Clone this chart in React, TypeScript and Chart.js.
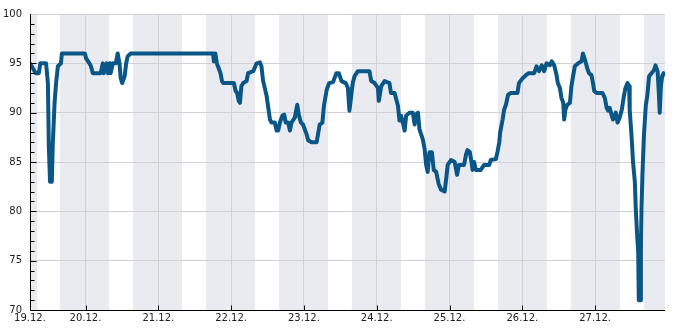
import React, { useEffect, useRef } from "react";
import { Chart, registerables } from "chart.js";

Chart.register(...registerables);

// hours since 19.12. 00:00
const hours = [
  5.7, 7.6, 8.6, 9.1, 11.0, 11.6, 11.9, 12.3, 12.9, 13.2, 13.8, 14.3, 14.9, 15.9, 16.2, 23.8,
  24.2, 25.3, 25.8, 26.4, 29.0, 29.7, 30.0, 31.0, 31.4, 32.0, 32.3, 33.0, 34.0, 34.6, 35.2, 35.6,
  36.1, 36.9, 37.4, 37.9, 38.9, 66.1, 66.3, 66.8, 67.3, 67.9, 68.5, 69.0, 69.4, 72.9, 73.5, 74.0,
  74.5, 74.9, 75.4, 76.0, 77.1, 77.6, 79.3, 80.4, 81.5, 82.0, 82.5, 83.7, 84.8, 85.3, 86.4, 87.0,
  87.5, 88.1, 88.9, 89.5, 90.0, 90.8, 91.4, 91.9, 93.0, 93.8, 94.3, 95.0, 95.7, 96.9, 97.4, 98.5,
  100.2, 101.2, 102.1, 102.6, 103.5, 104.3, 105.6, 106.7, 107.5, 108.4, 109.8, 110.5, 111.0, 111.6,
  112.1, 112.7, 113.8, 117.6, 118.2, 119.3, 120.4, 120.7, 121.5, 122.6, 124.2, 124.7, 125.9, 127.0,
  127.5, 128.0, 128.6, 129.2, 129.7, 130.8, 131.9, 132.5, 133.0, 133.6, 134.1, 135.2, 135.8, 136.3,
  136.8, 137.4, 138.2, 138.8, 139.6, 140.4, 141.2, 142.4, 142.9, 143.4, 144.5, 145.7, 146.5, 147.1,
  148.8, 149.4, 149.9, 150.7, 151.4, 151.6, 152.1, 152.7, 154.3, 155.4, 157.1, 157.6, 159.3, 159.8,
  160.4, 160.7, 161.5, 162.0, 162.6, 163.3, 164.2, 166.4, 166.9, 168.1, 169.2, 170.0, 171.9, 172.7,
  173.5, 174.4, 175.2, 176.0, 177.1, 177.7, 178.5, 179.3, 179.7, 180.4, 180.9, 181.5, 181.8, 182.2,
  182.8, 183.7, 184.2, 184.8, 185.3, 186.4, 187.5, 188.0, 188.8, 189.4, 190.0, 190.8, 191.3, 191.7,
  192.5, 194.4, 195.2, 195.8, 196.3, 196.8, 197.4, 197.9, 198.8, 199.4, 200.1, 200.8, 201.5, 202.0,
  202.7, 203.2, 203.4, 204.0, 204.5, 205.1, 205.4, 205.9, 206.2, 206.4, 206.8, 207.1, 207.3, 207.6,
  208.1, 208.7, 209.2, 209.8, 210.6, 211.4, 211.9, 212.6, 213.0, 213.3, 213.7, 214.1, 214.6, 215.1,
];

const values = [
  95, 94, 94, 95, 95, 93, 86.7, 83, 83, 86.7, 91, 93, 94.7, 95, 96, 96,
  95.5, 95, 94.7, 94, 94, 95, 94, 95, 94, 95, 94, 95, 95, 96, 95, 93.5,
  93, 93.7, 95, 95.7, 96, 96, 95.2, 96, 95, 94.5, 94, 93.2, 93, 93, 92.2, 92,
  91.2, 91, 92.7, 93, 93.2, 94, 94.2, 95, 95.1, 94.7, 93.3, 91.7, 89.3, 89, 89, 88.2,
  88.2, 89, 89.7, 89.8, 89, 89, 88.2, 89, 89.5, 90.8, 89.8, 89, 88.8, 87.8, 87.2, 87,
  87, 88.8, 89, 90.7, 92.3, 93, 93.1, 94, 94, 93.2, 93, 92.5, 90.2, 91.7,
  93, 93.7, 94.2, 94.2, 93.2, 93, 92.5, 91.2, 92.7, 93.2, 93, 92, 92, 90.7,
  89.2, 89.7, 89, 88.2, 89.7, 90, 90, 88.8, 89.8, 90, 88.3, 87.3, 86.3, 84.7,
  84, 86, 86, 84.2, 84, 82.8, 82.2, 82, 83.3, 84.7, 85.2, 85, 83.7, 84.7,
  84.7, 85.7, 86.2, 86, 84.7, 84.2, 85, 84.2, 84.2, 84.7, 84.7, 85.2, 85.3, 86,
  87, 88, 89.3, 90.3, 90.8, 91.8, 92, 92, 93, 93.5, 93.8, 94, 94, 94.7,
  94.2, 94.8, 94.2, 95, 94.8, 95.2, 94.8, 93.8, 93, 92.5, 91.5, 91, 89.3, 90.3,
  90.8, 91, 92.7, 93.8, 94.7, 95, 95.2, 96, 95.2, 94.5, 94, 93.8, 93, 92.2,
  92, 92, 91.5, 90.5, 90.2, 90.5, 89.8, 89.3, 90, 89, 89.5, 90.3, 91.7, 92.5,
  93, 92.7, 90.3, 87.7, 85, 83, 80.3, 77.3, 76, 71, 71, 76, 80.3, 83.7,
  87.7, 90.7, 91.7, 93.7, 94, 94.3, 94.8, 94.2, 92, 90, 92.7, 93.7, 94, 93.7,
];

// night (shaded) bands, hours since 19.12. 00:00
const nightStart = [0, 15.5, 39.6, 63.7, 87.7, 111.8, 135.9, 159.9, 184.0, 208.0];
const nightEnd = [7.9, 31.7, 55.7, 79.8, 103.9, 127.9, 152.0, 176.1, 200.2, 232.0];

const xTickHours = [24, 48, 72, 96, 120, 144, 168, 192];
const xTickLabels = ["20.12.", "21.12.", "22.12.", "23.12.", "24.12.", "25.12.", "26.12.", "27.12."];
const firstLabel = "19.12.";
const yTicks = [70, 75, 80, 85, 90, 95, 100];

const X_MIN = 5.7;
const X_MAX = 215.04;
const Y_MIN = 70;
const Y_MAX = 100;

const LINE = "#0a5787";
const BAND = "#eaebf0";
const GRID = "#d0d0d5";
const FONT = { family: "DejaVu Sans", size: 10 };

export default function App() {
  const ref = useRef<HTMLCanvasElement>(null);

  useEffect(() => {
    document.body.style.margin = "0";
    const canvas = ref.current!;

    const nightPlugin = {
      id: "nights",
      beforeDraw(chart: any) {
        const { ctx, chartArea: a } = chart;
        const x = chart.scales.x;
        ctx.save();
        ctx.fillStyle = BAND;
        nightStart.forEach((s: number, i: number) => {
          const x0 = Math.round(Math.max(a.left, x.getPixelForValue(s)));
          const x1 = Math.round(Math.min(a.right, x.getPixelForValue(nightEnd[i])));
          if (x1 > x0) ctx.fillRect(x0, a.top, x1 - x0, a.bottom - a.top);
        });
        ctx.restore();
      },
    };

    const axisPlugin = {
      id: "axes",
      afterDraw(chart: any) {
        const { ctx, chartArea: a } = chart;
        const x = chart.scales.x;
        const y = chart.scales.y;
        ctx.save();
        ctx.strokeStyle = "#000";
        ctx.lineWidth = 1;
        ctx.beginPath();
        const left = Math.round(a.left) + 0.5;
        const bottom = Math.round(a.bottom) + 0.5;
        ctx.moveTo(left, Math.round(a.top));
        ctx.lineTo(left, bottom);
        ctx.lineTo(Math.round(a.right), bottom);
        for (let v = Y_MIN + 1; v < Y_MAX; v++) {
          const py = Math.round(y.getPixelForValue(v)) + 0.5;
          const len = v % 5 === 0 ? 6 : 4;
          ctx.moveTo(left, py);
          ctx.lineTo(left + len, py);
        }
        xTickHours.forEach((h: number) => {
          const px = Math.round(x.getPixelForValue(h)) + 0.5;
          ctx.moveTo(px, bottom);
          ctx.lineTo(px, bottom - 5);
        });
        ctx.stroke();
        ctx.restore();
      },
    };

    const points = hours.map((h, i) => ({ x: h, y: values[i] }));

    const chart = new Chart(canvas, {
      type: "line",
      data: {
        datasets: [
          {
            data: points,
            borderColor: LINE,
            borderWidth: 4,
            pointRadius: 0,
            tension: 0,
            fill: false,
            borderJoinStyle: "round",
            borderCapStyle: "butt",
          },
        ],
      },
      options: {
        animation: false,
        responsive: false,
        devicePixelRatio: 1,
        layout: { padding: { top: 10, right: 20, left: 0, bottom: 0 } },
        plugins: { legend: { display: false }, tooltip: { enabled: false } },
        scales: {
          x: {
            type: "linear",
            min: X_MIN,
            max: X_MAX,
            afterBuildTicks(scale: any) {
              scale.ticks = [{ value: X_MIN }, ...xTickHours.map((h) => ({ value: h }))];
            },
            afterFit(scale: any) {
              scale.height = 20;
            },
            ticks: {
              autoSkip: false,
              maxRotation: 0,
              padding: 2,
              color: "#222",
              font: FONT,
              callback(value: any) {
                const idx = xTickHours.indexOf(value);
                return idx >= 0 ? xTickLabels[idx] : firstLabel;
              },
            },
            grid: { color: GRID, lineWidth: 1, drawTicks: false },
            border: { display: false },
          },
          y: {
            type: "linear",
            min: Y_MIN,
            max: Y_MAX,
            afterBuildTicks(scale: any) {
              scale.ticks = yTicks.map((v) => ({ value: v }));
            },
            afterFit(scale: any) {
              scale.width = 30;
            },
            ticks: { padding: 8, color: "#222", font: FONT },
            grid: { color: GRID, lineWidth: 1, drawTicks: false },
            border: { display: false },
          },
        },
      },
      plugins: [nightPlugin, axisPlugin],
    } as any);

    return () => chart.destroy();
  }, []);

  return (
    <div style={{ width: 685, height: 330 }}>
      <canvas ref={ref} width={685} height={330} style={{ display: "block" }} />
    </div>
  );
}
